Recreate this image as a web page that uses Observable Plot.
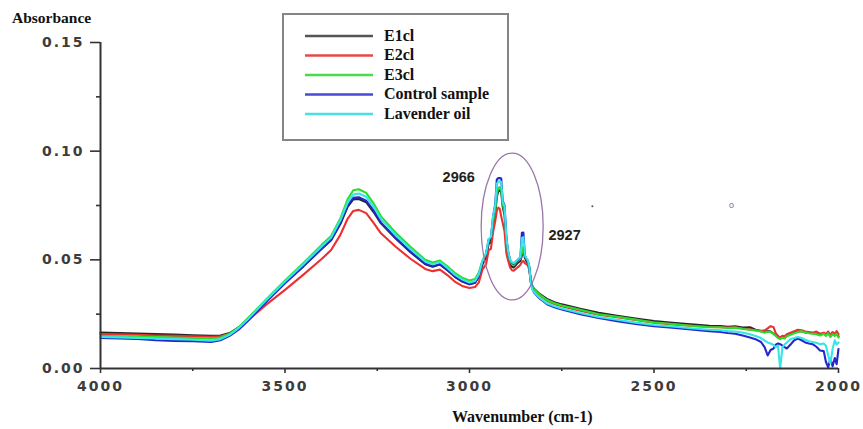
<!DOCTYPE html>
<html>
<head>
<meta charset="utf-8">
<script src="https://cdn.jsdelivr.net/npm/d3@7"></script>
<script src="https://cdn.jsdelivr.net/npm/@observablehq/plot@0.6"></script>
<style>
  html, body { margin: 0; padding: 0; background: #fff; }
  #chart svg { display: block; }
</style>
</head>
<body>
<div id="chart"></div>
<script>
// FTIR spectra, 4000–2000 cm-1
const seriesNames = ["E1cl", "E2cl", "E3cl", "Control sample", "Lavender oil"];
const seriesColors = ["#262626", "#ec2f2f", "#2cdc2c", "#2626cc", "#34e6e6"];
const legendColors = ["#555555", "#e84848", "#48dc48", "#4a4ad8", "#48e0e0"];

const wavenumber = [
  4000, 3950, 3900, 3850, 3800, 3750, 3700, 3675, 3650, 3625, 3600, 3550, 3500, 3450, 3400, 3375,
  3350, 3330, 3315, 3300, 3280, 3260, 3240, 3200, 3160, 3120, 3100, 3080, 3060, 3040, 3020, 3000,
  2985, 2975, 2965, 2955, 2948, 2942, 2936, 2930, 2926, 2922, 2918, 2914, 2910, 2905, 2900, 2895,
  2890, 2885, 2880, 2875, 2870, 2866, 2862, 2858, 2854, 2850, 2846, 2842, 2838, 2834, 2830, 2825,
  2810, 2790, 2770, 2750, 2700, 2650, 2600, 2550, 2500, 2450, 2400, 2350, 2320, 2300, 2280, 2260,
  2240, 2225, 2210, 2200, 2192, 2184, 2176, 2170, 2164, 2158, 2152, 2146, 2140, 2130, 2120, 2110,
  2100, 2090, 2080, 2070, 2060, 2050, 2040, 2034, 2028, 2022, 2016, 2010, 2005, 2000
];

const e1cl = [
  0.0165, 0.0163, 0.0161, 0.0158, 0.0156, 0.0153, 0.0151, 0.0152, 0.0163, 0.0190, 0.0230, 0.0315, 0.0395, 0.0472, 0.0552, 0.0590,
  0.0665, 0.0745, 0.0778, 0.0780, 0.0765, 0.0720, 0.0668, 0.0598, 0.0535, 0.0480, 0.0468, 0.0478, 0.0452, 0.0422, 0.0400, 0.0388,
  0.0395, 0.0420, 0.0478, 0.0512, 0.0575, 0.0580, 0.0660, 0.0715, 0.0790, 0.0815, 0.0820, 0.0810, 0.0745, 0.0705, 0.0575, 0.0515,
  0.0482, 0.0468, 0.0465, 0.0475, 0.0485, 0.0490, 0.0495, 0.0520, 0.0545, 0.0510, 0.0495, 0.0485, 0.0462, 0.0405, 0.0380, 0.0367,
  0.0343, 0.0320, 0.0305, 0.0295, 0.0275, 0.0256, 0.0243, 0.0230, 0.0218, 0.0210, 0.0203, 0.0196, 0.0195, 0.0192, 0.0194, 0.0188,
  0.0190, 0.0178, 0.0172, 0.0168, 0.0172, 0.0170, 0.0160, 0.0152, 0.0145, 0.0140, 0.0146, 0.0142, 0.0150, 0.0158, 0.0165, 0.0170,
  0.0172, 0.0166, 0.0163, 0.0162, 0.0160, 0.0155, 0.0162, 0.0154, 0.0164, 0.0150, 0.0160, 0.0153, 0.0162, 0.0148
];

const e2cl = [
  0.0158, 0.0157, 0.0155, 0.0152, 0.0150, 0.0148, 0.0146, 0.0148, 0.0160, 0.0186, 0.0222, 0.0295, 0.0362, 0.0432, 0.0505, 0.0545,
  0.0615, 0.0690, 0.0725, 0.0730, 0.0715, 0.0670, 0.0622, 0.0560, 0.0505, 0.0458, 0.0448, 0.0455, 0.0430, 0.0400, 0.0380, 0.0370,
  0.0375, 0.0395, 0.0455, 0.0480, 0.0545, 0.0550, 0.0630, 0.0680, 0.0725, 0.0740, 0.0735, 0.0700, 0.0670, 0.0630, 0.0530, 0.0495,
  0.0465, 0.0452, 0.0450, 0.0458, 0.0465, 0.0470, 0.0478, 0.0490, 0.0495, 0.0485, 0.0480, 0.0475, 0.0455, 0.0400, 0.0375, 0.0360,
  0.0336, 0.0312, 0.0297, 0.0287, 0.0266, 0.0248, 0.0236, 0.0223, 0.0211, 0.0203, 0.0197, 0.0191, 0.0190, 0.0188, 0.0190, 0.0184,
  0.0180, 0.0176, 0.0174, 0.0175, 0.0185, 0.0195, 0.0190, 0.0162, 0.0150, 0.0142, 0.0150, 0.0148, 0.0158, 0.0165, 0.0172, 0.0178,
  0.0176, 0.0170, 0.0168, 0.0165, 0.0170, 0.0160, 0.0165, 0.0158, 0.0170, 0.0155, 0.0168, 0.0160, 0.0172, 0.0158
];

const e3cl = [
  0.0150, 0.0148, 0.0147, 0.0145, 0.0142, 0.0140, 0.0137, 0.0143, 0.0160, 0.0190, 0.0232, 0.0320, 0.0405, 0.0485, 0.0570, 0.0610,
  0.0690, 0.0780, 0.0820, 0.0825, 0.0808, 0.0760, 0.0700, 0.0625, 0.0560, 0.0500, 0.0488, 0.0497, 0.0470, 0.0440, 0.0418, 0.0405,
  0.0412, 0.0440, 0.0495, 0.0530, 0.0595, 0.0600, 0.0680, 0.0735, 0.0800, 0.0830, 0.0835, 0.0825, 0.0760, 0.0720, 0.0590, 0.0530,
  0.0495, 0.0480, 0.0475, 0.0485, 0.0495, 0.0500, 0.0505, 0.0530, 0.0560, 0.0520, 0.0505, 0.0495, 0.0470, 0.0410, 0.0380, 0.0365,
  0.0340, 0.0315, 0.0300, 0.0290, 0.0270, 0.0250, 0.0238, 0.0225, 0.0212, 0.0205, 0.0197, 0.0190, 0.0190, 0.0186, 0.0188, 0.0182,
  0.0178, 0.0175, 0.0170, 0.0165, 0.0170, 0.0168, 0.0158, 0.0150, 0.0140, 0.0135, 0.0142, 0.0138, 0.0148, 0.0155, 0.0162, 0.0168,
  0.0172, 0.0165, 0.0162, 0.0160, 0.0158, 0.0152, 0.0160, 0.0150, 0.0162, 0.0145, 0.0158, 0.0150, 0.0160, 0.0142
];

const control = [
  0.0140, 0.0138, 0.0136, 0.0130, 0.0127, 0.0126, 0.0122, 0.0130, 0.0150, 0.0180, 0.0220, 0.0308, 0.0392, 0.0470, 0.0552, 0.0592,
  0.0670, 0.0752, 0.0785, 0.0788, 0.0772, 0.0728, 0.0672, 0.0600, 0.0538, 0.0482, 0.0470, 0.0480, 0.0455, 0.0425, 0.0402, 0.0388,
  0.0395, 0.0425, 0.0490, 0.0525, 0.0590, 0.0600, 0.0700, 0.0760, 0.0870, 0.0876, 0.0876, 0.0874, 0.0770, 0.0750, 0.0600, 0.0535,
  0.0500, 0.0485, 0.0482, 0.0490, 0.0498, 0.0505, 0.0510, 0.0625, 0.0626, 0.0520, 0.0505, 0.0495, 0.0465, 0.0400, 0.0368, 0.0350,
  0.0322, 0.0296, 0.0282, 0.0272, 0.0250, 0.0232, 0.0218, 0.0205, 0.0195, 0.0188, 0.0180, 0.0172, 0.0168, 0.0163, 0.0160, 0.0152,
  0.0143, 0.0135, 0.0122, 0.0097, 0.0060, 0.0085, 0.0092, 0.0110, 0.0115, 0.0112, 0.0105, 0.0098, 0.0092, 0.0110, 0.0130, 0.0138,
  0.0130, 0.0120, 0.0115, 0.0112, 0.0100, 0.0083, 0.0080, 0.0030, 0.0005, 0.0046, 0.0010, 0.0048, 0.0020, 0.0090
];

const lavender = [
  0.0145, 0.0143, 0.0141, 0.0138, 0.0135, 0.0132, 0.0128, 0.0135, 0.0155, 0.0187, 0.0228, 0.0316, 0.0400, 0.0480, 0.0563, 0.0603,
  0.0682, 0.0765, 0.0800, 0.0805, 0.0790, 0.0745, 0.0688, 0.0614, 0.0550, 0.0492, 0.0480, 0.0490, 0.0463, 0.0432, 0.0410, 0.0396,
  0.0403, 0.0432, 0.0495, 0.0530, 0.0595, 0.0605, 0.0700, 0.0755, 0.0850, 0.0860, 0.0860, 0.0858, 0.0765, 0.0745, 0.0600, 0.0535,
  0.0502, 0.0488, 0.0485, 0.0492, 0.0500, 0.0508, 0.0512, 0.0600, 0.0605, 0.0520, 0.0508, 0.0498, 0.0470, 0.0395, 0.0365, 0.0352,
  0.0326, 0.0300, 0.0286, 0.0276, 0.0255, 0.0237, 0.0224, 0.0211, 0.0200, 0.0193, 0.0185, 0.0178, 0.0176, 0.0172, 0.0170, 0.0165,
  0.0158, 0.0150, 0.0140, 0.0128, 0.0120, 0.0115, 0.0108, 0.0098, 0.0105, 0.0000, 0.0098, 0.0110, 0.0120, 0.0135, 0.0140, 0.0145,
  0.0140, 0.0132, 0.0125, 0.0122, 0.0118, 0.0112, 0.0115, 0.0105, 0.0060, 0.0023, 0.0090, 0.0130, 0.0110, 0.0120
];

const seriesValues = [e1cl, e2cl, e3cl, control, lavender];

const yTicks = [0, 0.05, 0.10, 0.15];
const yMinorTicks = [0.025, 0.075, 0.125];
const xTicks = [4000, 3500, 3000, 2500, 2000];
const xMinorTicks = [3750, 3250, 2750, 2250];

// peak callouts
const peakLabels = [
  {wn: 3073, a: 0.0879, text: "2966"},
  {wn: 2786, a: 0.0612, text: "2927"}
];
// highlighted C–H stretch region (centre and half-widths in data units)
const highlight = {wn: 2883, a: 0.0651, dwn: 84, da: 0.0338};

// long-format table for the line mark
const rows = [];
seriesNames.forEach((name, i) => {
  wavenumber.forEach((wn, j) => rows.push({series: name, wn, a: seriesValues[i][j]}));
});

const axisFont = "DejaVu Sans, Verdana, sans-serif";
const chart = Plot.plot({
  width: 863,
  height: 429,
  marginLeft: 100,
  marginRight: 25,
  marginTop: 42,
  marginBottom: 61,
  style: {fontFamily: axisFont, background: "#fff"},
  x: {domain: [4000, 2000]},
  y: {domain: [0, 0.15]},
  color: {domain: seriesNames, range: seriesColors},
  marks: [
    Plot.axisY(yTicks, {tickSize: 10, tickPadding: 6, tickFormat: d3.format(".2f"),
      fontSize: 14, fontWeight: "bold", fill: "#3c3c3c", stroke: "#333", strokeWidth: 1.6, label: null}),
    Plot.axisY(yMinorTicks, {tickSize: 4, text: null, stroke: "#333", strokeWidth: 1.6, label: null}),
    Plot.axisX(xTicks, {tickSize: 5, tickPadding: 8, tickFormat: d => String(d),
      fontSize: 14, fontWeight: "bold", fill: "#3c3c3c", stroke: "#333", strokeWidth: 1.6, label: null}),
    Plot.axisX(xMinorTicks, {tickSize: 3, text: null, stroke: "#333", strokeWidth: 1.6, label: null}),
    Plot.line(rows, {x: "wn", y: "a", z: "series", stroke: "series", strokeWidth: 2.1}),
    Plot.ruleY([0], {stroke: "#333", strokeWidth: 2}),
    Plot.ruleX([4000], {y1: 0, y2: 0.15, stroke: "#333", strokeWidth: 2}),
    Plot.text(peakLabels, {x: "wn", y: "a", text: "text", textAnchor: "start",
      fontFamily: "Liberation Sans, Arial, sans-serif", fontWeight: "bold", fontSize: 14.5, fill: "#222"}),
    Plot.text([{wn: 2290, a: 0.0752}], {x: "wn", y: "a", text: () => "o", fill: "#9a6fb0", fontSize: 9}),
    Plot.dot([{wn: 2667, a: 0.0746}], {x: "wn", y: "a", r: 1, fill: "#555", stroke: null})
  ]
});

document.getElementById("chart").appendChild(chart);

const svg = d3.select(chart);
svg.selectAll("g[aria-label='y-axis tick label'] text, g[aria-label='x-axis tick label'] text")
  .attr("letter-spacing", "2px");

const xs = chart.scale("x"), ys = chart.scale("y");

// ellipse around the C–H stretching peaks
const cx = xs.apply(highlight.wn), cy = ys.apply(highlight.a);
svg.append("ellipse")
  .attr("cx", cx).attr("cy", cy)
  .attr("rx", Math.abs(xs.apply(highlight.wn - highlight.dwn) - cx))
  .attr("ry", Math.abs(ys.apply(highlight.a + highlight.da) - cy))
  .attr("fill", "none").attr("stroke", "#9b76ab").attr("stroke-width", 1.3);

// axis titles
const titleFont = "Liberation Serif, Times New Roman, serif";
svg.append("text").attr("x", 12).attr("y", 23).attr("text-anchor", "start")
  .attr("font-family", titleFont).attr("font-weight", "bold").attr("font-size", 15.5)
  .attr("fill", "#111").text("Absorbance");
svg.append("text").attr("x", 452).attr("y", 422).attr("text-anchor", "start")
  .attr("font-family", titleFont).attr("font-weight", "bold").attr("font-size", 16)
  .attr("fill", "#111").text("Wavenumber (cm-1)");

// legend box
const legend = svg.append("g").attr("text-anchor", "start");
legend.append("rect").attr("x", 283).attr("y", 14).attr("width", 225).attr("height", 126)
  .attr("fill", "#fff").attr("stroke", "#858585").attr("stroke-width", 2);
seriesNames.forEach((name, i) => {
  const ry = 36 + i * 19.5;
  legend.append("line").attr("x1", 305).attr("x2", 373).attr("y1", ry).attr("y2", ry)
    .attr("stroke", legendColors[i]).attr("stroke-width", 2.5);
  legend.append("text").attr("x", 384).attr("y", ry + 4.5)
    .attr("font-family", titleFont).attr("font-weight", "bold").attr("font-size", 16)
    .attr("fill", "#111").text(name);
});
</script>
</body>
</html>
